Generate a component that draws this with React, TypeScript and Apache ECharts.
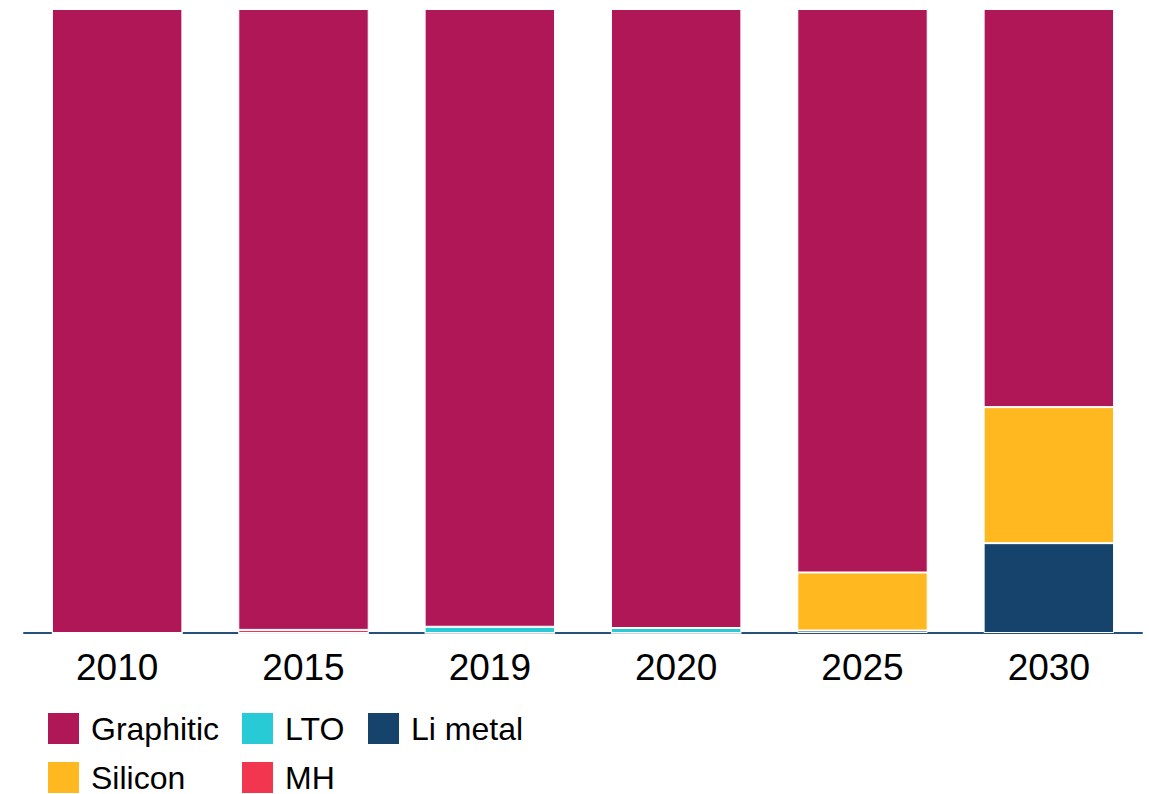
import React, { useEffect, useRef } from "react";
import * as echarts from "echarts";

const years = ["2010", "2015", "2019", "2020", "2025", "2030"];
const liMetal = [0, 0, 0, 0, 0.4, 14.4];
const lto = [0, 0, 1.0, 0.8, 0, 0];
const mh = [0, 0.5, 0, 0, 0, 0];
const silicon = [0, 0, 0, 0, 9.3, 21.8];
const graphitic = [100, 99.5, 99.0, 99.2, 90.3, 63.8];

const COLORS: Record<string, string> = {
  Graphitic: "#B01756",
  LTO: "#27CAD5",
  "Li metal": "#15436C",
  Silicon: "#FFB81F",
  MH: "#F2364F",
};

const FONT = "Arial, 'Liberation Sans', Helvetica, sans-serif";

export default function App() {
  const ref = useRef<HTMLDivElement>(null);
  useEffect(() => {
    if (!ref.current) return;
    const chart = echarts.init(ref.current, undefined, { renderer: "svg" });
    const mk = (name: string, data: number[]) => ({
      name,
      type: "bar",
      stack: "total",
      data,
      barCategoryGap: "30%",
      itemStyle: { color: COLORS[name], borderColor: "#ffffff", borderWidth: 1 },
      emphasis: { disabled: true },
    });
    const legendItem = (name: string, left: number, top: number) => ({
      data: [name],
      left,
      top,
      padding: 0,
      orient: "horizontal",
      itemWidth: 33,
      itemHeight: 33,
      itemGap: 10,
      selectedMode: false,
      icon: "rect",
      textStyle: {
        fontSize: 32,
        lineHeight: 33,
        color: "#000",
        fontFamily: FONT,
        padding: [0, 0, 0, 6],
      },
    });
    chart.setOption({
      animation: false,
      textStyle: { fontFamily: FONT },
      grid: { left: 24, right: 7, top: 9, bottom: 161, containLabel: false },
      xAxis: {
        type: "category",
        data: years,
        boundaryGap: true,
        axisLine: { show: true, lineStyle: { color: "#24507A", width: 2 } },
        axisTick: { show: false },
        axisLabel: { fontSize: 37, color: "#000", margin: 16, fontFamily: FONT },
      },
      yAxis: { type: "value", min: 0, max: 100, show: false, splitLine: { show: false } },
      legend: [
        legendItem("Graphitic", 46, 711),
        legendItem("LTO", 240, 711),
        legendItem("Li metal", 366, 711),
        legendItem("Silicon", 46, 760),
        legendItem("MH", 240, 760),
      ],
      series: [
        mk("Li metal", liMetal),
        mk("LTO", lto),
        mk("MH", mh),
        mk("Silicon", silicon),
        mk("Graphitic", graphitic),
      ],
    });
    return () => chart.dispose();
  }, []);
  return <div ref={ref} style={{ width: 1149, height: 794, position: "absolute", left: 0, top: 0 }} />;
}
